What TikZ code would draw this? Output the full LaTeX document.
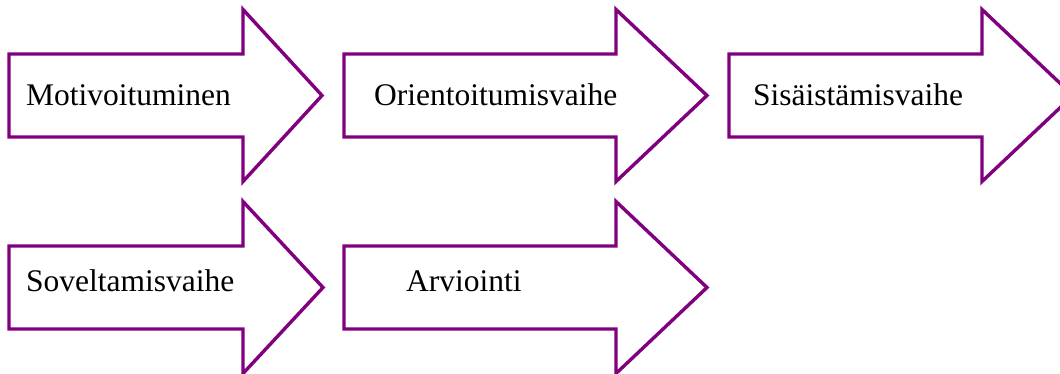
\documentclass[tikz,border=0pt]{standalone}
\usepackage{fontspec}
\setmainfont{Liberation Serif}
\definecolor{stagepurple}{HTML}{800080}
\tikzset{
  stageshape/.style={draw=stagepurple, line width=3.4pt, fill=white, line join=miter},
  stagelabel/.style={anchor=base west, inner sep=0pt, text=black,
    font=\fontsize{31.5}{38}\selectfont}
}
% #1 left edge, #2 start of head, #3 tip, #4 middle line
\newcommand\stagearrow[4]{%
  \draw[stageshape] (#1,#4-41.5) -- (#2,#4-41.5) -- (#2,#4-86) -- (#3,#4)
    -- (#2,#4+86) -- (#2,#4+41.5) -- (#1,#4+41.5) -- cycle;}
\begin{document}
\begin{tikzpicture}[x=1pt,y=-1pt]
  \useasboundingbox (0,0) rectangle (1060,374);
  % first row
  \stagearrow{9}{243}{322}{95.5}
  \stagearrow{344}{616}{707}{95.5}
  \stagearrow{729}{982}{1073}{95.5}
  % second row
  \stagearrow{9}{243}{323}{287.5}
  \stagearrow{344}{616}{707}{287.5}
  % labels
  \node[stagelabel] (motiv) at (26,106) {Motivoituminen};
  \node[stagelabel] (orient) at (374,106) {Orientoitumisvaihe};
  \node[stagelabel] (sisais) at (753,106) {Sisäistämisvaihe};
  \node[stagelabel] (sovel) at (26,291) {Soveltamisvaihe};
  \node[stagelabel] (arvio) at (406,291) {Arviointi};
\end{tikzpicture}
\end{document}
